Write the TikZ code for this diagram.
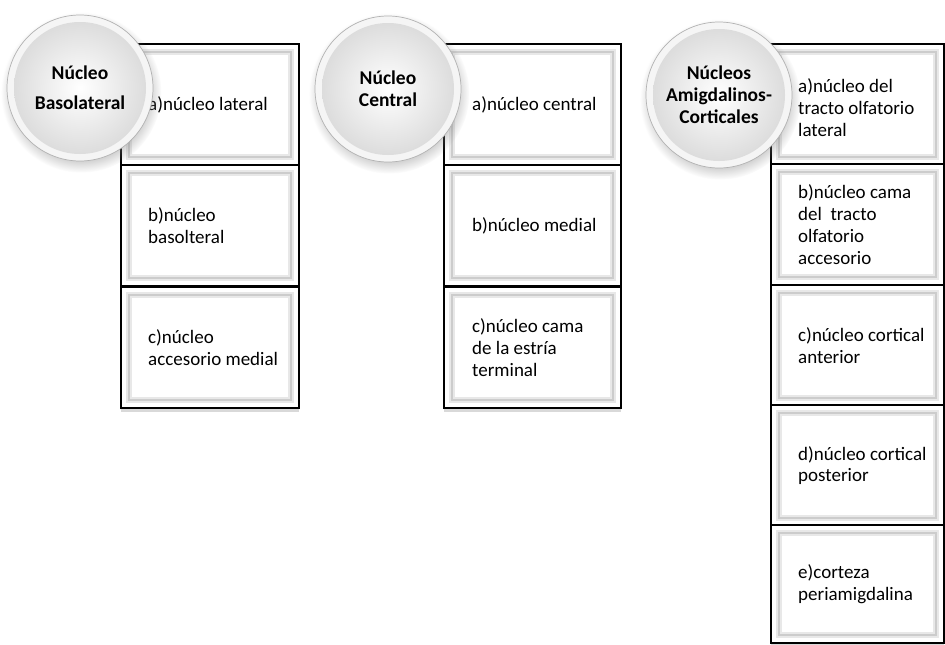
\documentclass[tikz,border=0pt]{standalone}
\usepackage{fontspec}
\setmainfont{Carlito}
\usetikzlibrary{shadows}

\tikzset{
  cell/.style={draw=black, line width=2.2pt, fill=white, anchor=north west,
    inner sep=0pt, minimum height=121pt,
    drop shadow={shadow xshift=0pt, shadow yshift=-4pt, opacity=0.3, fill=gray},
    path picture={
      \draw[gray!18, line width=6pt]
        ([shift={(8pt,-8pt)}]path picture bounding box.north west) rectangle
        ([shift={(-8pt,8pt)}]path picture bounding box.south east);
      \draw[gray!40, line width=1.6pt]
        ([shift={(8pt,-8pt)}]path picture bounding box.north west) rectangle
        ([shift={(-8pt,8pt)}]path picture bounding box.south east);
    }},
  celltext/.style={anchor=west, align=left, inner sep=0pt,
    font=\fontsize{19}{21.7}\selectfont},
  hub/.style={circle, minimum size=146pt, inner sep=0pt, align=center,
    font=\fontsize{19.5}{22}\selectfont\bfseries,
    draw=gray!60, line width=0.7pt, fill=gray!8,
    circular drop shadow={shadow xshift=1pt, shadow yshift=-4pt, opacity=0.35, fill=gray},
    path picture={
      \shade[inner color=white, outer color=gray!30]
        (path picture bounding box.center) circle[radius=66pt];
    }}
}

\begin{document}
\begin{tikzpicture}[x=1pt, y=-1pt]
\useasboundingbox (0,0) rectangle (945,645);

% first column of cells
\node[cell, minimum width=178pt] (c1a) at (120,43) {};
\node[cell, minimum width=178pt] (c1b) at (120,164) {};
\node[cell, minimum width=178pt] (c1c) at (120,286) {};

% second column of cells
\node[cell, minimum width=177pt] (c2a) at (443,43) {};
\node[cell, minimum width=177pt] (c2b) at (443,164) {};
\node[cell, minimum width=177pt] (c2c) at (443,286) {};

% third column of cells
\node[cell, minimum width=173pt] (c3a) at (770,43) {};
\node[cell, minimum width=173pt] (c3b) at (770,163) {};
\node[cell, minimum width=173pt] (c3c) at (770,284) {};
\node[cell, minimum width=173pt] (c3d) at (770,404) {};
\node[cell, minimum width=173pt, minimum height=118pt] (c3e) at (770,524) {};

% cell texts
\node[celltext] (t1a) at ([xshift=28pt]c1a.west) {a)núcleo lateral};
\node[celltext] (t1b) at ([xshift=28pt]c1b.west) {b)núcleo\\basolteral};
\node[celltext] (t1c) at ([xshift=28pt]c1c.west) {c)núcleo\\accesorio medial};

\node[celltext] (t2a) at ([xshift=29pt]c2a.west) {a)núcleo central};
\node[celltext] (t2b) at ([xshift=29pt]c2b.west) {b)núcleo medial};
\node[celltext] (t2c) at ([xshift=29pt]c2c.west) {c)núcleo cama\\de la estría\\terminal};

\node[celltext] (t3a) at ([xshift=28pt,yshift=-3pt]c3a.west) {a)núcleo del\\tracto olfatorio\\lateral};
\node[celltext] (t3b) at ([xshift=28pt]c3b.west) {b)núcleo cama\\del\ \ tracto\\olfatorio\\accesorio};
\node[celltext] (t3c) at ([xshift=28pt]c3c.west) {c)núcleo cortical\\anterior};
\node[celltext] (t3d) at ([xshift=28pt]c3d.west) {d)núcleo cortical\\posterior};
\node[celltext] (t3e) at ([xshift=28pt]c3e.west) {e)corteza\\periamigdalina};

% group hubs
\node[hub] (h1) at (80,88) {Núcleo\\[8pt]Basolateral};
\node[hub] (h2) at (388,89) {Núcleo\\Central};
\node[hub] (h3) at (719,95) {Núcleos\\Amigdalinos-\\Corticales};
\end{tikzpicture}
\end{document}
